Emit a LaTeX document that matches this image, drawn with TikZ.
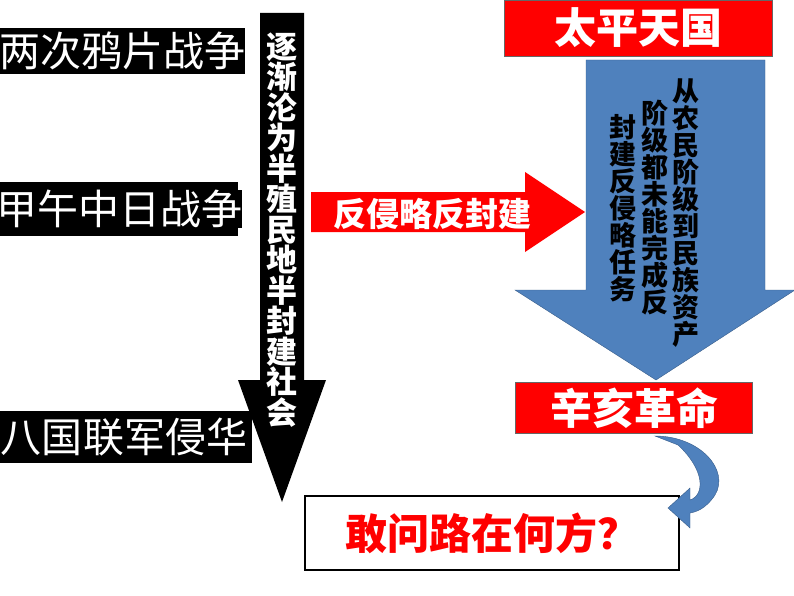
\documentclass[tikz,border=0pt]{standalone}
\usepackage{fontspec}
\setmainfont{Noto Sans CJK SC}
\newcommand\cjkb{\bfseries}
\definecolor{bfill}{RGB}{79,129,189}
\definecolor{bdraw}{RGB}{56,93,138}
\tikzset{blk/.style={fill=black,text=white,inner sep=0pt,font=\fontsize{41}{44}\selectfont},
redbox/.style={fill=red,draw=black!60,text=white,font=\cjkb\fontsize{42}{44}\selectfont}}
\begin{document}
\begin{tikzpicture}[x=1pt,y=-1pt]
\useasboundingbox (0,0) rectangle (794,596);
% black arrow
\fill (260,13) -- (304,13) -- (304,380) -- (326,380) -- (282,502) -- (238,380) -- (260,380) -- cycle;
\node[text=white,font=\cjkb\fontsize{31}{30.5}\selectfont,align=center,inner sep=0pt] (vt) at (282,230) {逐\\渐\\沦\\为\\半\\殖\\民\\地\\半\\封\\建\\社\\会};
% left boxes
\fill (0,28) rectangle (245,74); \node[blk] (a) at (122,51) {两次鸦片战争};
\fill (0,182) rectangle (238,236); \node[blk] (b) at (119,209) {甲午中日战争};
\fill (0,411) rectangle (252,463); \node[blk] (c) at (124,437) {八国联军侵华};
% red arrow
\fill[red] (311,192) -- (525,192) -- (525,172) -- (585,212) -- (525,252) -- (525,232) -- (311,232) -- cycle;
\node[text=white,font=\cjkb\fontsize{33}{35}\selectfont] (r) at (432,214) {反侵略反封建};
% blue arrow
\filldraw[fill=bfill,draw=bdraw] (586,60) -- (765,60) -- (765,290) -- (795,290) -- (656,380) -- (515,290) -- (586,290) -- cycle;
\node[font=\cjkb\fontsize{27}{27}\selectfont,align=center,anchor=north,inner sep=0pt] (t1) at (686,78) {从\\农\\民\\阶\\级\\到\\民\\族\\资\\产};
\node[font=\cjkb\fontsize{27}{27}\selectfont,align=center,anchor=north,inner sep=0pt] (t2) at (655,100) {阶\\级\\都\\未\\能\\完\\成\\反};
\node[font=\cjkb\fontsize{27}{27}\selectfont,align=center,anchor=north,inner sep=0pt] (t3) at (623,114) {封\\建\\反\\侵\\略\\任\\务};
% red boxes
\node[redbox,minimum width=268,minimum height=56] (tp) at (638,28) {太平天国};
\node[redbox,minimum width=237,minimum height=51] (xh) at (634,408) {辛亥革命};
% question
\node[draw=black,line width=1.5pt,minimum width=374,minimum height=74,text=red,font=\cjkb\fontsize{42}{44}\selectfont] (q) at (492,533) {敢问路在何方？};
% curved arrow
\filldraw[fill=bfill,draw=bdraw]
 (655,436) .. controls (700,436) and (730,470) .. (715,495) .. controls (705,510) and (695,512) .. (690,513)
 -- (690,528) -- (668,508) -- (690,488) -- (690,500) .. controls (705,495) and (705,470) .. (678,445) -- cycle;
\end{tikzpicture}
\end{document}
